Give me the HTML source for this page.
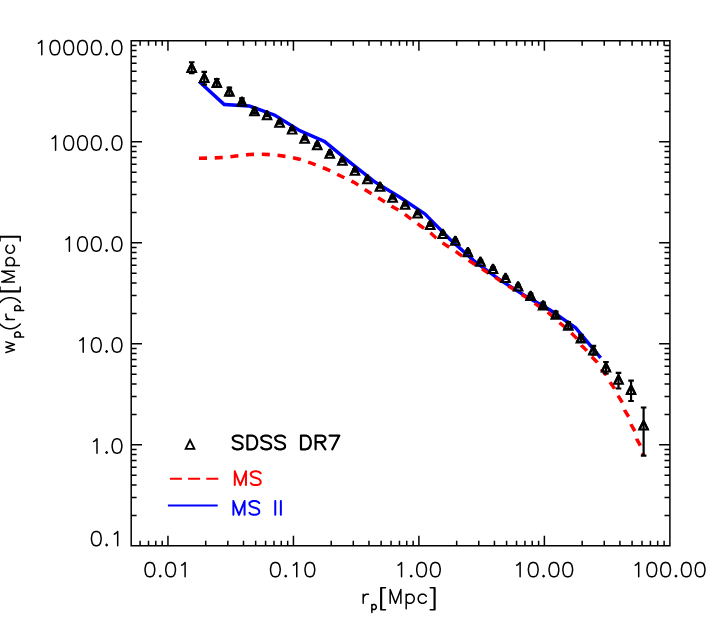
<!DOCTYPE html>
<html><head><meta charset="utf-8"><title>wp(rp)</title>
<style>html,body{margin:0;padding:0;background:#fff;font-family:"Liberation Sans",sans-serif}svg{display:block}</style></head>
<body>
<svg width="709" height="629" viewBox="0 0 709 629">
<rect width="709" height="629" fill="#fff"/>
<path d="M197.95,82.76L223.47,106.21L248.94,107.77L273.63,116.60L298.68,132.06L323.68,143.10L348.62,163.44L373.81,183.33L398.96,198.67L423.90,215.33L448.93,240.74L474.12,263.14L499.32,281.54L524.50,297.40L549.57,311.77L574.42,329.08L599.38,359.00L602.02,356.80L576.78,326.52L551.43,308.83L526.30,294.40L501.28,278.66L476.28,260.46L451.27,238.26L426.10,212.67L400.84,195.73L375.79,180.47L350.78,160.76L325.52,140.10L300.32,128.94L275.17,113.40L249.66,104.23L224.93,102.79L200.25,80.24Z" fill="#00f"/>
<path d="M199.03,160.10L207.03,159.97L206.97,156.37L198.97,156.50ZM214.84,159.70L222.83,159.27L222.64,155.68L214.65,156.10ZM230.65,158.45L236.21,157.79L238.58,157.52L238.18,153.94L235.79,154.21L230.22,154.88ZM246.28,156.65L249.42,156.30L254.10,156.19L254.02,152.59L249.18,152.70L245.88,153.08ZM261.85,156.00L261.97,156.00L269.70,156.44L269.90,152.84L262.03,152.40L261.77,152.41ZM277.27,157.10L285.20,158.17L285.68,154.61L277.75,153.54ZM292.68,159.61L299.03,160.93L300.26,161.34L301.40,157.96L299.97,157.47L293.41,156.10ZM307.60,163.82L311.29,165.07L315.03,166.54L316.33,163.24L312.51,161.73L308.75,160.45ZM322.24,169.39L325.89,170.82L329.45,172.53L330.98,169.35L327.31,167.58L323.54,166.09ZM336.43,175.90L339.93,177.59L343.63,179.37L345.17,176.20L341.47,174.41L337.96,172.72ZM350.62,182.74L353.93,184.32L357.32,186.59L359.26,183.70L355.67,181.28L352.15,179.56ZM363.82,190.93L370.63,195.13L372.46,192.16L365.65,187.96ZM377.21,199.27L384.07,203.38L385.87,200.38L379.01,196.27ZM390.51,207.57L390.69,207.69L397.53,211.62L399.27,208.58L392.51,204.71L392.41,204.65ZM403.85,215.70L410.21,220.54L412.31,217.80L405.94,212.95ZM416.52,225.12L419.00,226.91L423.08,229.76L425.06,226.91L421.00,224.09L418.55,222.31ZM429.26,234.05L434.70,239.02L435.33,239.51L437.40,236.74L436.90,236.38L431.56,231.53ZM441.53,244.16L441.60,244.21L448.24,248.68L450.17,245.79L443.60,241.39L443.60,241.39ZM454.68,252.85L461.13,257.59L463.18,254.80L456.73,250.06ZM467.75,261.83L469.06,262.67L474.47,266.15L476.36,263.22L470.94,259.73L469.62,258.89ZM480.99,270.34L487.72,274.67L489.60,271.74L482.88,267.41ZM494.23,278.87L499.36,282.17L500.96,283.20L502.85,280.26L501.24,279.23L496.12,275.94ZM507.49,287.38L514.22,291.70L516.10,288.77L509.37,284.45ZM520.74,295.88L524.43,298.25L527.35,300.28L529.33,297.43L526.37,295.35L522.63,292.95ZM533.70,304.72L533.70,304.72L540.19,309.36L542.21,306.55L535.70,301.88L535.69,301.87ZM546.57,313.41L551.56,317.87L552.51,318.74L554.81,316.21L553.84,315.33L548.85,310.86ZM558.24,323.96L558.39,324.10L563.99,328.61L564.46,329.02L566.73,326.47L566.21,325.99L560.61,321.50L560.54,321.44ZM570.13,334.14L575.74,339.83L578.16,337.45L572.55,331.75ZM579.78,346.01L580.05,346.38L585.23,351.54L585.49,351.88L588.16,349.72L587.77,349.26L582.75,344.22L582.72,344.13ZM590.52,358.01L595.94,363.47L595.86,363.40L598.84,361.57L598.66,361.33L592.91,355.62ZM599.92,370.00L601.00,371.72L604.77,376.10L604.81,376.21L607.88,374.50L607.63,374.10L603.80,369.68L602.90,368.17ZM608.58,382.98L609.12,383.93L612.99,389.50L613.00,389.55L616.16,387.97L616.01,387.70L612.08,382.07L611.65,381.27ZM616.58,396.61L620.83,403.39L623.79,401.53L619.53,394.76ZM622.82,410.38L622.97,410.81L627.10,417.66L630.10,415.86L626.23,409.39L626.25,409.37ZM629.25,424.65L629.47,425.31L633.30,431.99L636.35,430.25L632.73,423.89L632.66,423.61ZM634.99,439.02L635.23,439.94L638.83,446.54L641.92,444.87L638.57,438.66L638.48,438.20ZM641.01,453.59L641.49,455.21L644.91,454.19L644.43,452.57Z" fill="#f00"/>
<path d="M191.70,62.27V73.27M188.90,62.27h5.6M188.90,73.27h5.6" fill="none" stroke="#000" stroke-width="2.2"/>
<path d="M187.34,72.03L191.70,63.31L196.06,72.03Z" fill="none" stroke="#000" stroke-width="1.95" stroke-linejoin="miter" stroke-miterlimit="2"/>
<path d="M187.59,72.03L191.70,63.81L195.81,72.03" fill="none" stroke="#000" stroke-width="2.40" stroke-linejoin="bevel"/>
<path d="M204.25,71.92V84.67M201.45,71.92h5.6M201.45,84.67h5.6" fill="none" stroke="#000" stroke-width="2.2"/>
<path d="M199.89,81.93L204.25,73.21L208.61,81.93Z" fill="none" stroke="#000" stroke-width="1.95" stroke-linejoin="miter" stroke-miterlimit="2"/>
<path d="M200.14,81.93L204.25,73.71L208.36,81.93" fill="none" stroke="#000" stroke-width="2.40" stroke-linejoin="bevel"/>
<path d="M216.81,79.02V86.54M214.01,79.02h5.6M214.01,86.54h5.6" fill="none" stroke="#000" stroke-width="2.2"/>
<path d="M212.45,86.98L216.81,78.26L221.17,86.98Z" fill="none" stroke="#000" stroke-width="1.95" stroke-linejoin="miter" stroke-miterlimit="2"/>
<path d="M212.70,86.98L216.81,78.76L220.91,86.98" fill="none" stroke="#000" stroke-width="2.40" stroke-linejoin="bevel"/>
<path d="M229.36,87.72V95.35M226.56,87.72h5.6M226.56,95.35h5.6" fill="none" stroke="#000" stroke-width="2.2"/>
<path d="M225.00,95.73L229.36,87.01L233.72,95.73Z" fill="none" stroke="#000" stroke-width="1.95" stroke-linejoin="miter" stroke-miterlimit="2"/>
<path d="M225.25,95.73L229.36,87.51L233.47,95.73" fill="none" stroke="#000" stroke-width="2.40" stroke-linejoin="bevel"/>
<path d="M241.91,98.42V103.47M239.11,98.42h5.6M239.11,103.47h5.6" fill="none" stroke="#000" stroke-width="2.2"/>
<path d="M237.55,105.73L241.91,97.01L246.27,105.73Z" fill="none" stroke="#000" stroke-width="1.95" stroke-linejoin="miter" stroke-miterlimit="2"/>
<path d="M237.80,105.73L241.91,97.51L246.02,105.73" fill="none" stroke="#000" stroke-width="2.40" stroke-linejoin="bevel"/>
<path d="M254.46,107.97V113.17M251.66,107.97h5.6M251.66,113.17h5.6" fill="none" stroke="#000" stroke-width="2.2"/>
<path d="M250.10,115.33L254.46,106.61L258.82,115.33Z" fill="none" stroke="#000" stroke-width="1.95" stroke-linejoin="miter" stroke-miterlimit="2"/>
<path d="M250.36,115.33L254.46,107.11L258.57,115.33" fill="none" stroke="#000" stroke-width="2.40" stroke-linejoin="bevel"/>
<path d="M267.02,113.77V116.20M264.22,113.77h5.6M264.22,116.20h5.6" fill="none" stroke="#000" stroke-width="2.2"/>
<path d="M262.66,119.33L267.02,110.61L271.38,119.33Z" fill="none" stroke="#000" stroke-width="1.95" stroke-linejoin="miter" stroke-miterlimit="2"/>
<path d="M262.91,119.33L267.02,111.11L271.13,119.33" fill="none" stroke="#000" stroke-width="2.40" stroke-linejoin="bevel"/>
<path d="M279.57,121.17V123.60M276.77,121.17h5.6M276.77,123.60h5.6" fill="none" stroke="#000" stroke-width="2.2"/>
<path d="M275.21,126.73L279.57,118.01L283.93,126.73Z" fill="none" stroke="#000" stroke-width="1.95" stroke-linejoin="miter" stroke-miterlimit="2"/>
<path d="M275.46,126.73L279.57,118.51L283.68,126.73" fill="none" stroke="#000" stroke-width="2.40" stroke-linejoin="bevel"/>
<path d="M292.12,128.06V130.50M289.32,128.06h5.6M289.32,130.50h5.6" fill="none" stroke="#000" stroke-width="2.2"/>
<path d="M287.76,133.62L292.12,124.90L296.48,133.62Z" fill="none" stroke="#000" stroke-width="1.95" stroke-linejoin="miter" stroke-miterlimit="2"/>
<path d="M288.02,133.62L292.12,125.41L296.23,133.62" fill="none" stroke="#000" stroke-width="2.40" stroke-linejoin="bevel"/>
<path d="M304.68,137.12V139.55M301.88,137.12h5.6M301.88,139.55h5.6" fill="none" stroke="#000" stroke-width="2.2"/>
<path d="M300.32,142.68L304.68,133.95L309.04,142.68Z" fill="none" stroke="#000" stroke-width="1.95" stroke-linejoin="miter" stroke-miterlimit="2"/>
<path d="M300.57,142.68L304.68,134.46L308.79,142.68" fill="none" stroke="#000" stroke-width="2.40" stroke-linejoin="bevel"/>
<path d="M317.23,143.72V146.15M314.43,143.72h5.6M314.43,146.15h5.6" fill="none" stroke="#000" stroke-width="2.2"/>
<path d="M312.87,149.28L317.23,140.55L321.59,149.28Z" fill="none" stroke="#000" stroke-width="1.95" stroke-linejoin="miter" stroke-miterlimit="2"/>
<path d="M313.12,149.28L317.23,141.06L321.34,149.28" fill="none" stroke="#000" stroke-width="2.40" stroke-linejoin="bevel"/>
<path d="M329.78,152.16V154.60M326.98,152.16h5.6M326.98,154.60h5.6" fill="none" stroke="#000" stroke-width="2.2"/>
<path d="M325.42,157.72L329.78,149.00L334.14,157.72Z" fill="none" stroke="#000" stroke-width="1.95" stroke-linejoin="miter" stroke-miterlimit="2"/>
<path d="M325.67,157.72L329.78,149.51L333.89,157.72" fill="none" stroke="#000" stroke-width="2.40" stroke-linejoin="bevel"/>
<path d="M342.34,159.27V161.70M339.54,159.27h5.6M339.54,161.70h5.6" fill="none" stroke="#000" stroke-width="2.2"/>
<path d="M337.98,164.83L342.34,156.10L346.70,164.83Z" fill="none" stroke="#000" stroke-width="1.95" stroke-linejoin="miter" stroke-miterlimit="2"/>
<path d="M338.23,164.83L342.34,156.61L346.44,164.83" fill="none" stroke="#000" stroke-width="2.40" stroke-linejoin="bevel"/>
<path d="M354.89,169.27V171.70M352.09,169.27h5.6M352.09,171.70h5.6" fill="none" stroke="#000" stroke-width="2.2"/>
<path d="M350.53,174.83L354.89,166.10L359.25,174.83Z" fill="none" stroke="#000" stroke-width="1.95" stroke-linejoin="miter" stroke-miterlimit="2"/>
<path d="M350.78,174.83L354.89,166.61L359.00,174.83" fill="none" stroke="#000" stroke-width="2.40" stroke-linejoin="bevel"/>
<path d="M367.44,177.77V180.20M364.64,177.77h5.6M364.64,180.20h5.6" fill="none" stroke="#000" stroke-width="2.2"/>
<path d="M363.08,183.33L367.44,174.60L371.80,183.33Z" fill="none" stroke="#000" stroke-width="1.95" stroke-linejoin="miter" stroke-miterlimit="2"/>
<path d="M363.33,183.33L367.44,175.11L371.55,183.33" fill="none" stroke="#000" stroke-width="2.40" stroke-linejoin="bevel"/>
<path d="M380.00,185.16V187.60M377.19,185.16h5.6M377.19,187.60h5.6" fill="none" stroke="#000" stroke-width="2.2"/>
<path d="M375.63,190.72L380.00,182.00L384.36,190.72Z" fill="none" stroke="#000" stroke-width="1.95" stroke-linejoin="miter" stroke-miterlimit="2"/>
<path d="M375.89,190.72L380.00,182.51L384.10,190.72" fill="none" stroke="#000" stroke-width="2.40" stroke-linejoin="bevel"/>
<path d="M392.55,196.27V198.70M389.75,196.27h5.6M389.75,198.70h5.6" fill="none" stroke="#000" stroke-width="2.2"/>
<path d="M388.19,201.83L392.55,193.10L396.91,201.83Z" fill="none" stroke="#000" stroke-width="1.95" stroke-linejoin="miter" stroke-miterlimit="2"/>
<path d="M388.44,201.83L392.55,193.61L396.66,201.83" fill="none" stroke="#000" stroke-width="2.40" stroke-linejoin="bevel"/>
<path d="M405.10,203.27V205.70M402.30,203.27h5.6M402.30,205.70h5.6" fill="none" stroke="#000" stroke-width="2.2"/>
<path d="M400.74,208.83L405.10,200.10L409.46,208.83Z" fill="none" stroke="#000" stroke-width="1.95" stroke-linejoin="miter" stroke-miterlimit="2"/>
<path d="M400.99,208.83L405.10,200.61L409.21,208.83" fill="none" stroke="#000" stroke-width="2.40" stroke-linejoin="bevel"/>
<path d="M417.65,212.02V214.45M414.85,212.02h5.6M414.85,214.45h5.6" fill="none" stroke="#000" stroke-width="2.2"/>
<path d="M413.29,217.58L417.65,208.85L422.01,217.58Z" fill="none" stroke="#000" stroke-width="1.95" stroke-linejoin="miter" stroke-miterlimit="2"/>
<path d="M413.55,217.58L417.65,209.36L421.76,217.58" fill="none" stroke="#000" stroke-width="2.40" stroke-linejoin="bevel"/>
<path d="M430.21,223.47V225.90M427.41,223.47h5.6M427.41,225.90h5.6" fill="none" stroke="#000" stroke-width="2.2"/>
<path d="M425.85,229.03L430.21,220.30L434.57,229.03Z" fill="none" stroke="#000" stroke-width="1.95" stroke-linejoin="miter" stroke-miterlimit="2"/>
<path d="M426.10,229.03L430.21,220.81L434.32,229.03" fill="none" stroke="#000" stroke-width="2.40" stroke-linejoin="bevel"/>
<path d="M442.76,232.37V234.80M439.96,232.37h5.6M439.96,234.80h5.6" fill="none" stroke="#000" stroke-width="2.2"/>
<path d="M438.40,237.93L442.76,229.20L447.12,237.93Z" fill="none" stroke="#000" stroke-width="1.95" stroke-linejoin="miter" stroke-miterlimit="2"/>
<path d="M438.65,237.93L442.76,229.71L446.87,237.93" fill="none" stroke="#000" stroke-width="2.40" stroke-linejoin="bevel"/>
<path d="M455.31,239.27V241.70M452.51,239.27h5.6M452.51,241.70h5.6" fill="none" stroke="#000" stroke-width="2.2"/>
<path d="M450.95,244.83L455.31,236.10L459.67,244.83Z" fill="none" stroke="#000" stroke-width="1.95" stroke-linejoin="miter" stroke-miterlimit="2"/>
<path d="M451.20,244.83L455.31,236.61L459.42,244.83" fill="none" stroke="#000" stroke-width="2.40" stroke-linejoin="bevel"/>
<path d="M467.87,250.61V253.05M465.07,250.61h5.6M465.07,253.05h5.6" fill="none" stroke="#000" stroke-width="2.2"/>
<path d="M463.51,256.17L467.87,247.45L472.23,256.17Z" fill="none" stroke="#000" stroke-width="1.95" stroke-linejoin="miter" stroke-miterlimit="2"/>
<path d="M463.76,256.17L467.87,247.96L471.97,256.17" fill="none" stroke="#000" stroke-width="2.40" stroke-linejoin="bevel"/>
<path d="M480.42,260.16V262.60M477.62,260.16h5.6M477.62,262.60h5.6" fill="none" stroke="#000" stroke-width="2.2"/>
<path d="M476.06,265.72L480.42,257.00L484.78,265.72Z" fill="none" stroke="#000" stroke-width="1.95" stroke-linejoin="miter" stroke-miterlimit="2"/>
<path d="M476.31,265.72L480.42,257.51L484.53,265.72" fill="none" stroke="#000" stroke-width="2.40" stroke-linejoin="bevel"/>
<path d="M492.97,267.36V269.80M490.17,267.36h5.6M490.17,269.80h5.6" fill="none" stroke="#000" stroke-width="2.2"/>
<path d="M488.61,272.92L492.97,264.20L497.33,272.92Z" fill="none" stroke="#000" stroke-width="1.95" stroke-linejoin="miter" stroke-miterlimit="2"/>
<path d="M488.86,272.92L492.97,264.71L497.08,272.92" fill="none" stroke="#000" stroke-width="2.40" stroke-linejoin="bevel"/>
<path d="M505.53,276.41V278.85M502.73,276.41h5.6M502.73,278.85h5.6" fill="none" stroke="#000" stroke-width="2.2"/>
<path d="M501.17,281.97L505.53,273.25L509.89,281.97Z" fill="none" stroke="#000" stroke-width="1.95" stroke-linejoin="miter" stroke-miterlimit="2"/>
<path d="M501.42,281.97L505.53,273.76L509.63,281.97" fill="none" stroke="#000" stroke-width="2.40" stroke-linejoin="bevel"/>
<path d="M518.08,284.86V287.30M515.28,284.86h5.6M515.28,287.30h5.6" fill="none" stroke="#000" stroke-width="2.2"/>
<path d="M513.72,290.42L518.08,281.70L522.44,290.42Z" fill="none" stroke="#000" stroke-width="1.95" stroke-linejoin="miter" stroke-miterlimit="2"/>
<path d="M513.97,290.42L518.08,282.21L522.19,290.42" fill="none" stroke="#000" stroke-width="2.40" stroke-linejoin="bevel"/>
<path d="M530.63,293.61V297.71M527.83,293.61h5.6M527.83,297.71h5.6" fill="none" stroke="#000" stroke-width="2.2"/>
<path d="M526.27,299.97L530.63,291.25L534.99,299.97Z" fill="none" stroke="#000" stroke-width="1.95" stroke-linejoin="miter" stroke-miterlimit="2"/>
<path d="M526.52,299.97L530.63,291.76L534.74,299.97" fill="none" stroke="#000" stroke-width="2.40" stroke-linejoin="bevel"/>
<path d="M543.18,302.51V307.88M540.38,302.51h5.6M540.38,307.88h5.6" fill="none" stroke="#000" stroke-width="2.2"/>
<path d="M538.82,309.47L543.18,300.75L547.54,309.47Z" fill="none" stroke="#000" stroke-width="1.95" stroke-linejoin="miter" stroke-miterlimit="2"/>
<path d="M539.08,309.47L543.18,301.26L547.29,309.47" fill="none" stroke="#000" stroke-width="2.40" stroke-linejoin="bevel"/>
<path d="M555.74,311.56V317.57M552.94,311.56h5.6M552.94,317.57h5.6" fill="none" stroke="#000" stroke-width="2.2"/>
<path d="M551.38,318.82L555.74,310.10L560.10,318.82Z" fill="none" stroke="#000" stroke-width="1.95" stroke-linejoin="miter" stroke-miterlimit="2"/>
<path d="M551.63,318.82L555.74,310.61L559.85,318.82" fill="none" stroke="#000" stroke-width="2.40" stroke-linejoin="bevel"/>
<path d="M568.29,322.11V328.77M565.49,322.11h5.6M565.49,328.77h5.6" fill="none" stroke="#000" stroke-width="2.2"/>
<path d="M563.93,329.67L568.29,320.95L572.65,329.67Z" fill="none" stroke="#000" stroke-width="1.95" stroke-linejoin="miter" stroke-miterlimit="2"/>
<path d="M564.18,329.67L568.29,321.46L572.40,329.67" fill="none" stroke="#000" stroke-width="2.40" stroke-linejoin="bevel"/>
<path d="M580.84,334.76V341.96M578.04,334.76h5.6M578.04,341.96h5.6" fill="none" stroke="#000" stroke-width="2.2"/>
<path d="M576.48,342.57L580.84,333.85L585.20,342.57Z" fill="none" stroke="#000" stroke-width="1.95" stroke-linejoin="miter" stroke-miterlimit="2"/>
<path d="M576.73,342.57L580.84,334.36L584.95,342.57" fill="none" stroke="#000" stroke-width="2.40" stroke-linejoin="bevel"/>
<path d="M593.40,345.91V354.65M590.60,345.91h5.6M590.60,354.65h5.6" fill="none" stroke="#000" stroke-width="2.2"/>
<path d="M589.04,354.42L593.40,345.70L597.76,354.42Z" fill="none" stroke="#000" stroke-width="1.95" stroke-linejoin="miter" stroke-miterlimit="2"/>
<path d="M589.29,354.42L593.40,346.21L597.50,354.42" fill="none" stroke="#000" stroke-width="2.40" stroke-linejoin="bevel"/>
<path d="M605.95,362.01V373.51M603.15,362.01h5.6M603.15,373.51h5.6" fill="none" stroke="#000" stroke-width="2.2"/>
<path d="M601.59,371.57L605.95,362.85L610.31,371.57Z" fill="none" stroke="#000" stroke-width="1.95" stroke-linejoin="miter" stroke-miterlimit="2"/>
<path d="M601.84,371.57L605.95,363.36L610.06,371.57" fill="none" stroke="#000" stroke-width="2.40" stroke-linejoin="bevel"/>
<path d="M618.50,372.81V388.51M615.70,372.81h5.6M615.70,388.51h5.6" fill="none" stroke="#000" stroke-width="2.2"/>
<path d="M614.14,383.82L618.50,375.10L622.86,383.82Z" fill="none" stroke="#000" stroke-width="1.95" stroke-linejoin="miter" stroke-miterlimit="2"/>
<path d="M614.39,383.82L618.50,375.61L622.61,383.82" fill="none" stroke="#000" stroke-width="2.40" stroke-linejoin="bevel"/>
<path d="M631.06,380.71V401.01M628.26,380.71h5.6M628.26,401.01h5.6" fill="none" stroke="#000" stroke-width="2.2"/>
<path d="M626.70,393.92L631.06,385.20L635.42,393.92Z" fill="none" stroke="#000" stroke-width="1.95" stroke-linejoin="miter" stroke-miterlimit="2"/>
<path d="M626.95,393.92L631.06,385.71L635.16,393.92" fill="none" stroke="#000" stroke-width="2.40" stroke-linejoin="bevel"/>
<path d="M643.61,407.51V455.61M640.81,407.51h5.6M640.81,455.61h5.6" fill="none" stroke="#000" stroke-width="2.2"/>
<path d="M639.25,429.52L643.61,420.80L647.97,429.52Z" fill="none" stroke="#000" stroke-width="1.95" stroke-linejoin="miter" stroke-miterlimit="2"/>
<path d="M639.50,429.52L643.61,421.31L647.72,429.52" fill="none" stroke="#000" stroke-width="2.40" stroke-linejoin="bevel"/>
<path d="M131.2,40.8H669.9V545.8H131.2ZM140.11,545.8v-5.0M140.11,40.8v5.0M148.51,545.8v-5.0M148.51,40.8v5.0M155.79,545.8v-5.0M155.79,40.8v5.0M162.21,545.8v-5.0M162.21,40.8v5.0M167.95,545.8v-10.0M167.95,40.8v10.0M205.72,545.8v-5.0M205.72,40.8v5.0M227.82,545.8v-5.0M227.82,40.8v5.0M243.49,545.8v-5.0M243.49,40.8v5.0M255.65,545.8v-5.0M255.65,40.8v5.0M265.59,545.8v-5.0M265.59,40.8v5.0M273.99,545.8v-5.0M273.99,40.8v5.0M281.27,545.8v-5.0M281.27,40.8v5.0M287.68,545.8v-5.0M287.68,40.8v5.0M293.43,545.8v-10.0M293.43,40.8v10.0M331.20,545.8v-5.0M331.20,40.8v5.0M353.29,545.8v-5.0M353.29,40.8v5.0M368.97,545.8v-5.0M368.97,40.8v5.0M381.13,545.8v-5.0M381.13,40.8v5.0M391.06,545.8v-5.0M391.06,40.8v5.0M399.46,545.8v-5.0M399.46,40.8v5.0M406.74,545.8v-5.0M406.74,40.8v5.0M413.16,545.8v-5.0M413.16,40.8v5.0M418.90,545.8v-10.0M418.90,40.8v10.0M456.67,545.8v-5.0M456.67,40.8v5.0M478.77,545.8v-5.0M478.77,40.8v5.0M494.44,545.8v-5.0M494.44,40.8v5.0M506.60,545.8v-5.0M506.60,40.8v5.0M516.54,545.8v-5.0M516.54,40.8v5.0M524.94,545.8v-5.0M524.94,40.8v5.0M532.22,545.8v-5.0M532.22,40.8v5.0M538.63,545.8v-5.0M538.63,40.8v5.0M544.38,545.8v-10.0M544.38,40.8v10.0M582.15,545.8v-5.0M582.15,40.8v5.0M604.24,545.8v-5.0M604.24,40.8v5.0M619.92,545.8v-5.0M619.92,40.8v5.0M632.08,545.8v-5.0M632.08,40.8v5.0M642.01,545.8v-5.0M642.01,40.8v5.0M650.41,545.8v-5.0M650.41,40.8v5.0M657.69,545.8v-5.0M657.69,40.8v5.0M664.11,545.8v-5.0M664.11,40.8v5.0M131.2,515.40h5.4M669.9,515.40h-5.4M131.2,497.61h5.4M669.9,497.61h-5.4M131.2,484.99h5.4M669.9,484.99h-5.4M131.2,475.20h5.4M669.9,475.20h-5.4M131.2,467.21h5.4M669.9,467.21h-5.4M131.2,460.45h5.4M669.9,460.45h-5.4M131.2,454.59h5.4M669.9,454.59h-5.4M131.2,449.42h5.4M669.9,449.42h-5.4M131.2,444.80h10.8M669.9,444.80h-10.8M131.2,414.40h5.4M669.9,414.40h-5.4M131.2,396.61h5.4M669.9,396.61h-5.4M131.2,383.99h5.4M669.9,383.99h-5.4M131.2,374.20h5.4M669.9,374.20h-5.4M131.2,366.21h5.4M669.9,366.21h-5.4M131.2,359.45h5.4M669.9,359.45h-5.4M131.2,353.59h5.4M669.9,353.59h-5.4M131.2,348.42h5.4M669.9,348.42h-5.4M131.2,343.80h10.8M669.9,343.80h-10.8M131.2,313.40h5.4M669.9,313.40h-5.4M131.2,295.61h5.4M669.9,295.61h-5.4M131.2,282.99h5.4M669.9,282.99h-5.4M131.2,273.20h5.4M669.9,273.20h-5.4M131.2,265.21h5.4M669.9,265.21h-5.4M131.2,258.45h5.4M669.9,258.45h-5.4M131.2,252.59h5.4M669.9,252.59h-5.4M131.2,247.42h5.4M669.9,247.42h-5.4M131.2,242.80h10.8M669.9,242.80h-10.8M131.2,212.40h5.4M669.9,212.40h-5.4M131.2,194.61h5.4M669.9,194.61h-5.4M131.2,181.99h5.4M669.9,181.99h-5.4M131.2,172.20h5.4M669.9,172.20h-5.4M131.2,164.21h5.4M669.9,164.21h-5.4M131.2,157.45h5.4M669.9,157.45h-5.4M131.2,151.59h5.4M669.9,151.59h-5.4M131.2,146.42h5.4M669.9,146.42h-5.4M131.2,141.80h10.8M669.9,141.80h-10.8M131.2,111.40h5.4M669.9,111.40h-5.4M131.2,93.61h5.4M669.9,93.61h-5.4M131.2,80.99h5.4M669.9,80.99h-5.4M131.2,71.20h5.4M669.9,71.20h-5.4M131.2,63.21h5.4M669.9,63.21h-5.4M131.2,56.45h5.4M669.9,56.45h-5.4M131.2,50.59h5.4M669.9,50.59h-5.4M131.2,45.42h5.4M669.9,45.42h-5.4" fill="none" stroke="#000" stroke-width="1.5" stroke-linecap="butt"/>
<path transform="translate(167.15 576.80) scale(0.6900 0.6800) translate(-35.00 0)" d="M9.00,-21.00L6.00,-20.00L4.00,-17.00L3.00,-12.00L3.00,-9.00L4.00,-4.00L6.00,-1.00L9.00,0.00L11.00,0.00L14.00,-1.00L16.00,-4.00L17.00,-9.00L17.00,-12.00L16.00,-17.00L14.00,-20.00L11.00,-21.00L9.00,-21.00M25.00,-2.00L24.00,-1.00L25.00,0.00L26.00,-1.00L25.00,-2.00M39.00,-21.00L36.00,-20.00L34.00,-17.00L33.00,-12.00L33.00,-9.00L34.00,-4.00L36.00,-1.00L39.00,0.00L41.00,0.00L44.00,-1.00L46.00,-4.00L47.00,-9.00L47.00,-12.00L46.00,-17.00L44.00,-20.00L41.00,-21.00L39.00,-21.00M56.00,-17.00L58.00,-18.00L61.00,-21.00L61.00,0.00" fill="none" stroke="#000" stroke-width="1.50" vector-effect="non-scaling-stroke" stroke-linecap="round" stroke-linejoin="round"/>
<path transform="translate(292.62 576.80) scale(0.6900 0.6800) translate(-35.00 0)" d="M9.00,-21.00L6.00,-20.00L4.00,-17.00L3.00,-12.00L3.00,-9.00L4.00,-4.00L6.00,-1.00L9.00,0.00L11.00,0.00L14.00,-1.00L16.00,-4.00L17.00,-9.00L17.00,-12.00L16.00,-17.00L14.00,-20.00L11.00,-21.00L9.00,-21.00M25.00,-2.00L24.00,-1.00L25.00,0.00L26.00,-1.00L25.00,-2.00M36.00,-17.00L38.00,-18.00L41.00,-21.00L41.00,0.00M59.00,-21.00L56.00,-20.00L54.00,-17.00L53.00,-12.00L53.00,-9.00L54.00,-4.00L56.00,-1.00L59.00,0.00L61.00,0.00L64.00,-1.00L66.00,-4.00L67.00,-9.00L67.00,-12.00L66.00,-17.00L64.00,-20.00L61.00,-21.00L59.00,-21.00" fill="none" stroke="#000" stroke-width="1.50" vector-effect="non-scaling-stroke" stroke-linecap="round" stroke-linejoin="round"/>
<path transform="translate(418.10 576.80) scale(0.6900 0.6800) translate(-35.00 0)" d="M6.00,-17.00L8.00,-18.00L11.00,-21.00L11.00,0.00M25.00,-2.00L24.00,-1.00L25.00,0.00L26.00,-1.00L25.00,-2.00M39.00,-21.00L36.00,-20.00L34.00,-17.00L33.00,-12.00L33.00,-9.00L34.00,-4.00L36.00,-1.00L39.00,0.00L41.00,0.00L44.00,-1.00L46.00,-4.00L47.00,-9.00L47.00,-12.00L46.00,-17.00L44.00,-20.00L41.00,-21.00L39.00,-21.00M59.00,-21.00L56.00,-20.00L54.00,-17.00L53.00,-12.00L53.00,-9.00L54.00,-4.00L56.00,-1.00L59.00,0.00L61.00,0.00L64.00,-1.00L66.00,-4.00L67.00,-9.00L67.00,-12.00L66.00,-17.00L64.00,-20.00L61.00,-21.00L59.00,-21.00" fill="none" stroke="#000" stroke-width="1.50" vector-effect="non-scaling-stroke" stroke-linecap="round" stroke-linejoin="round"/>
<path transform="translate(543.58 576.80) scale(0.6900 0.6800) translate(-45.00 0)" d="M6.00,-17.00L8.00,-18.00L11.00,-21.00L11.00,0.00M29.00,-21.00L26.00,-20.00L24.00,-17.00L23.00,-12.00L23.00,-9.00L24.00,-4.00L26.00,-1.00L29.00,0.00L31.00,0.00L34.00,-1.00L36.00,-4.00L37.00,-9.00L37.00,-12.00L36.00,-17.00L34.00,-20.00L31.00,-21.00L29.00,-21.00M45.00,-2.00L44.00,-1.00L45.00,0.00L46.00,-1.00L45.00,-2.00M59.00,-21.00L56.00,-20.00L54.00,-17.00L53.00,-12.00L53.00,-9.00L54.00,-4.00L56.00,-1.00L59.00,0.00L61.00,0.00L64.00,-1.00L66.00,-4.00L67.00,-9.00L67.00,-12.00L66.00,-17.00L64.00,-20.00L61.00,-21.00L59.00,-21.00M79.00,-21.00L76.00,-20.00L74.00,-17.00L73.00,-12.00L73.00,-9.00L74.00,-4.00L76.00,-1.00L79.00,0.00L81.00,0.00L84.00,-1.00L86.00,-4.00L87.00,-9.00L87.00,-12.00L86.00,-17.00L84.00,-20.00L81.00,-21.00L79.00,-21.00" fill="none" stroke="#000" stroke-width="1.50" vector-effect="non-scaling-stroke" stroke-linecap="round" stroke-linejoin="round"/>
<path transform="translate(669.05 576.80) scale(0.6900 0.6800) translate(-55.00 0)" d="M6.00,-17.00L8.00,-18.00L11.00,-21.00L11.00,0.00M29.00,-21.00L26.00,-20.00L24.00,-17.00L23.00,-12.00L23.00,-9.00L24.00,-4.00L26.00,-1.00L29.00,0.00L31.00,0.00L34.00,-1.00L36.00,-4.00L37.00,-9.00L37.00,-12.00L36.00,-17.00L34.00,-20.00L31.00,-21.00L29.00,-21.00M49.00,-21.00L46.00,-20.00L44.00,-17.00L43.00,-12.00L43.00,-9.00L44.00,-4.00L46.00,-1.00L49.00,0.00L51.00,0.00L54.00,-1.00L56.00,-4.00L57.00,-9.00L57.00,-12.00L56.00,-17.00L54.00,-20.00L51.00,-21.00L49.00,-21.00M65.00,-2.00L64.00,-1.00L65.00,0.00L66.00,-1.00L65.00,-2.00M79.00,-21.00L76.00,-20.00L74.00,-17.00L73.00,-12.00L73.00,-9.00L74.00,-4.00L76.00,-1.00L79.00,0.00L81.00,0.00L84.00,-1.00L86.00,-4.00L87.00,-9.00L87.00,-12.00L86.00,-17.00L84.00,-20.00L81.00,-21.00L79.00,-21.00M99.00,-21.00L96.00,-20.00L94.00,-17.00L93.00,-12.00L93.00,-9.00L94.00,-4.00L96.00,-1.00L99.00,0.00L101.00,0.00L104.00,-1.00L106.00,-4.00L107.00,-9.00L107.00,-12.00L106.00,-17.00L104.00,-20.00L101.00,-21.00L99.00,-21.00" fill="none" stroke="#000" stroke-width="1.50" vector-effect="non-scaling-stroke" stroke-linecap="round" stroke-linejoin="round"/>
<path transform="translate(123.90 54.85) scale(0.6900 0.6800) translate(-130.00 0)" d="M6.00,-17.00L8.00,-18.00L11.00,-21.00L11.00,0.00M29.00,-21.00L26.00,-20.00L24.00,-17.00L23.00,-12.00L23.00,-9.00L24.00,-4.00L26.00,-1.00L29.00,0.00L31.00,0.00L34.00,-1.00L36.00,-4.00L37.00,-9.00L37.00,-12.00L36.00,-17.00L34.00,-20.00L31.00,-21.00L29.00,-21.00M49.00,-21.00L46.00,-20.00L44.00,-17.00L43.00,-12.00L43.00,-9.00L44.00,-4.00L46.00,-1.00L49.00,0.00L51.00,0.00L54.00,-1.00L56.00,-4.00L57.00,-9.00L57.00,-12.00L56.00,-17.00L54.00,-20.00L51.00,-21.00L49.00,-21.00M69.00,-21.00L66.00,-20.00L64.00,-17.00L63.00,-12.00L63.00,-9.00L64.00,-4.00L66.00,-1.00L69.00,0.00L71.00,0.00L74.00,-1.00L76.00,-4.00L77.00,-9.00L77.00,-12.00L76.00,-17.00L74.00,-20.00L71.00,-21.00L69.00,-21.00M89.00,-21.00L86.00,-20.00L84.00,-17.00L83.00,-12.00L83.00,-9.00L84.00,-4.00L86.00,-1.00L89.00,0.00L91.00,0.00L94.00,-1.00L96.00,-4.00L97.00,-9.00L97.00,-12.00L96.00,-17.00L94.00,-20.00L91.00,-21.00L89.00,-21.00M105.00,-2.00L104.00,-1.00L105.00,0.00L106.00,-1.00L105.00,-2.00M119.00,-21.00L116.00,-20.00L114.00,-17.00L113.00,-12.00L113.00,-9.00L114.00,-4.00L116.00,-1.00L119.00,0.00L121.00,0.00L124.00,-1.00L126.00,-4.00L127.00,-9.00L127.00,-12.00L126.00,-17.00L124.00,-20.00L121.00,-21.00L119.00,-21.00" fill="none" stroke="#000" stroke-width="1.50" vector-effect="non-scaling-stroke" stroke-linecap="round" stroke-linejoin="round"/>
<path transform="translate(123.90 150.15) scale(0.6900 0.6800) translate(-110.00 0)" d="M6.00,-17.00L8.00,-18.00L11.00,-21.00L11.00,0.00M29.00,-21.00L26.00,-20.00L24.00,-17.00L23.00,-12.00L23.00,-9.00L24.00,-4.00L26.00,-1.00L29.00,0.00L31.00,0.00L34.00,-1.00L36.00,-4.00L37.00,-9.00L37.00,-12.00L36.00,-17.00L34.00,-20.00L31.00,-21.00L29.00,-21.00M49.00,-21.00L46.00,-20.00L44.00,-17.00L43.00,-12.00L43.00,-9.00L44.00,-4.00L46.00,-1.00L49.00,0.00L51.00,0.00L54.00,-1.00L56.00,-4.00L57.00,-9.00L57.00,-12.00L56.00,-17.00L54.00,-20.00L51.00,-21.00L49.00,-21.00M69.00,-21.00L66.00,-20.00L64.00,-17.00L63.00,-12.00L63.00,-9.00L64.00,-4.00L66.00,-1.00L69.00,0.00L71.00,0.00L74.00,-1.00L76.00,-4.00L77.00,-9.00L77.00,-12.00L76.00,-17.00L74.00,-20.00L71.00,-21.00L69.00,-21.00M85.00,-2.00L84.00,-1.00L85.00,0.00L86.00,-1.00L85.00,-2.00M99.00,-21.00L96.00,-20.00L94.00,-17.00L93.00,-12.00L93.00,-9.00L94.00,-4.00L96.00,-1.00L99.00,0.00L101.00,0.00L104.00,-1.00L106.00,-4.00L107.00,-9.00L107.00,-12.00L106.00,-17.00L104.00,-20.00L101.00,-21.00L99.00,-21.00" fill="none" stroke="#000" stroke-width="1.50" vector-effect="non-scaling-stroke" stroke-linecap="round" stroke-linejoin="round"/>
<path transform="translate(123.90 251.15) scale(0.6900 0.6800) translate(-90.00 0)" d="M6.00,-17.00L8.00,-18.00L11.00,-21.00L11.00,0.00M29.00,-21.00L26.00,-20.00L24.00,-17.00L23.00,-12.00L23.00,-9.00L24.00,-4.00L26.00,-1.00L29.00,0.00L31.00,0.00L34.00,-1.00L36.00,-4.00L37.00,-9.00L37.00,-12.00L36.00,-17.00L34.00,-20.00L31.00,-21.00L29.00,-21.00M49.00,-21.00L46.00,-20.00L44.00,-17.00L43.00,-12.00L43.00,-9.00L44.00,-4.00L46.00,-1.00L49.00,0.00L51.00,0.00L54.00,-1.00L56.00,-4.00L57.00,-9.00L57.00,-12.00L56.00,-17.00L54.00,-20.00L51.00,-21.00L49.00,-21.00M65.00,-2.00L64.00,-1.00L65.00,0.00L66.00,-1.00L65.00,-2.00M79.00,-21.00L76.00,-20.00L74.00,-17.00L73.00,-12.00L73.00,-9.00L74.00,-4.00L76.00,-1.00L79.00,0.00L81.00,0.00L84.00,-1.00L86.00,-4.00L87.00,-9.00L87.00,-12.00L86.00,-17.00L84.00,-20.00L81.00,-21.00L79.00,-21.00" fill="none" stroke="#000" stroke-width="1.50" vector-effect="non-scaling-stroke" stroke-linecap="round" stroke-linejoin="round"/>
<path transform="translate(123.90 352.15) scale(0.6900 0.6800) translate(-70.00 0)" d="M6.00,-17.00L8.00,-18.00L11.00,-21.00L11.00,0.00M29.00,-21.00L26.00,-20.00L24.00,-17.00L23.00,-12.00L23.00,-9.00L24.00,-4.00L26.00,-1.00L29.00,0.00L31.00,0.00L34.00,-1.00L36.00,-4.00L37.00,-9.00L37.00,-12.00L36.00,-17.00L34.00,-20.00L31.00,-21.00L29.00,-21.00M45.00,-2.00L44.00,-1.00L45.00,0.00L46.00,-1.00L45.00,-2.00M59.00,-21.00L56.00,-20.00L54.00,-17.00L53.00,-12.00L53.00,-9.00L54.00,-4.00L56.00,-1.00L59.00,0.00L61.00,0.00L64.00,-1.00L66.00,-4.00L67.00,-9.00L67.00,-12.00L66.00,-17.00L64.00,-20.00L61.00,-21.00L59.00,-21.00" fill="none" stroke="#000" stroke-width="1.50" vector-effect="non-scaling-stroke" stroke-linecap="round" stroke-linejoin="round"/>
<path transform="translate(123.90 453.15) scale(0.6900 0.6800) translate(-50.00 0)" d="M6.00,-17.00L8.00,-18.00L11.00,-21.00L11.00,0.00M25.00,-2.00L24.00,-1.00L25.00,0.00L26.00,-1.00L25.00,-2.00M39.00,-21.00L36.00,-20.00L34.00,-17.00L33.00,-12.00L33.00,-9.00L34.00,-4.00L36.00,-1.00L39.00,0.00L41.00,0.00L44.00,-1.00L46.00,-4.00L47.00,-9.00L47.00,-12.00L46.00,-17.00L44.00,-20.00L41.00,-21.00L39.00,-21.00" fill="none" stroke="#000" stroke-width="1.50" vector-effect="non-scaling-stroke" stroke-linecap="round" stroke-linejoin="round"/>
<path transform="translate(123.90 545.75) scale(0.6900 0.6800) translate(-50.00 0)" d="M9.00,-21.00L6.00,-20.00L4.00,-17.00L3.00,-12.00L3.00,-9.00L4.00,-4.00L6.00,-1.00L9.00,0.00L11.00,0.00L14.00,-1.00L16.00,-4.00L17.00,-9.00L17.00,-12.00L16.00,-17.00L14.00,-20.00L11.00,-21.00L9.00,-21.00M25.00,-2.00L24.00,-1.00L25.00,0.00L26.00,-1.00L25.00,-2.00M36.00,-17.00L38.00,-18.00L41.00,-21.00L41.00,0.00" fill="none" stroke="#000" stroke-width="1.50" vector-effect="non-scaling-stroke" stroke-linecap="round" stroke-linejoin="round"/>
<path transform="translate(399.05 603.35) scale(0.6680 0.6580) translate(-57.70 0)" d="M4.00,-14.00L4.00,0.00M4.00,-8.00L5.00,-11.00L7.00,-13.00L9.00,-14.00L12.00,-14.00M17.00,1.80L17.00,14.07M17.00,3.45L18.10,2.35L19.20,1.80L20.85,1.80L21.95,2.35L23.05,3.45L23.60,5.10L23.60,6.20L23.05,7.85L21.95,8.95L20.85,9.50L19.20,9.50L18.10,8.95L17.00,7.85M30.40,-23.80L30.40,9.60M31.40,-23.80L31.40,9.60M30.40,-23.80L37.40,-23.80M30.40,9.60L37.40,9.60M44.40,-21.00L44.40,0.00M44.40,-21.00L52.40,0.00M60.40,-21.00L52.40,0.00M60.40,-21.00L60.40,0.00M68.40,-14.00L68.40,8.30M68.40,-11.00L70.40,-13.00L72.40,-14.00L75.40,-14.00L77.40,-13.00L79.40,-11.00L80.40,-8.00L80.40,-6.00L79.40,-3.00L77.40,-1.00L75.40,0.00L72.40,0.00L70.40,-1.00L68.40,-3.00M98.40,-11.00L96.40,-13.00L94.40,-14.00L91.40,-14.00L89.40,-13.00L87.40,-11.00L86.40,-8.00L86.40,-6.00L87.40,-3.00L89.40,-1.00L91.40,0.00L94.40,0.00L96.40,-1.00L98.40,-3.00M110.40,-23.80L110.40,9.60M111.40,-23.80L111.40,9.60M104.40,-23.80L111.40,-23.80M104.40,9.60L111.40,9.60" fill="none" stroke="#000" stroke-width="1.50" vector-effect="non-scaling-stroke" stroke-linecap="round" stroke-linejoin="round"/>
<path transform="translate(14.40 354.50) rotate(-90) scale(0.6650 0.6050) translate(0.00 0)" d="M3.00,-14.00L7.00,0.00M11.00,-14.00L7.00,0.00M11.00,-14.00L15.00,0.00M19.00,-14.00L15.00,0.00M26.28,0.42L26.28,15.36M26.28,2.43L27.52,1.09L28.76,0.42L30.62,0.42L31.86,1.09L33.10,2.43L33.72,4.44L33.72,5.78L33.10,7.79L31.86,9.13L30.62,9.80L28.76,9.80L27.52,9.13L26.28,7.79M45.78,-23.80L43.78,-21.71L41.78,-18.58L39.78,-14.41L38.78,-9.19L38.78,-5.01L39.78,0.21L41.78,4.38L43.78,7.51L45.78,9.60M52.78,-14.00L52.78,0.00M52.78,-8.00L53.78,-11.00L55.78,-13.00L57.78,-14.00L60.78,-14.00M66.06,0.42L66.06,15.36M66.06,2.43L67.30,1.09L68.54,0.42L70.40,0.42L71.64,1.09L72.88,2.43L73.50,4.44L73.50,5.78L72.88,7.79L71.64,9.13L70.40,9.80L68.54,9.80L67.30,9.13L66.06,7.79M78.39,-23.80L80.39,-21.71L82.39,-18.58L84.39,-14.41L85.39,-9.19L85.39,-5.01L84.39,0.21L82.39,4.38L80.39,7.51L78.39,9.60M94.51,-23.80L94.51,9.60M95.51,-23.80L95.51,9.60M94.51,-23.80L101.51,-23.80M94.51,9.60L101.51,9.60M109.11,-21.00L109.11,0.00M109.11,-21.00L117.11,0.00M125.11,-21.00L117.11,0.00M125.11,-21.00L125.11,0.00M133.71,-14.00L133.71,8.30M133.71,-11.00L135.71,-13.00L137.71,-14.00L140.71,-14.00L142.71,-13.00L144.71,-11.00L145.71,-8.00L145.71,-6.00L144.71,-3.00L142.71,-1.00L140.71,0.00L137.71,0.00L135.71,-1.00L133.71,-3.00M164.23,-11.00L162.23,-13.00L160.23,-14.00L157.23,-14.00L155.23,-13.00L153.23,-11.00L152.23,-8.00L152.23,-6.00L153.23,-3.00L155.23,-1.00L157.23,0.00L160.23,0.00L162.23,-1.00L164.23,-3.00M176.61,-23.80L176.61,9.60M177.61,-23.80L177.61,9.60M170.61,-23.80L177.61,-23.80M170.61,9.60L177.61,9.60" fill="none" stroke="#000" stroke-width="1.50" vector-effect="non-scaling-stroke" stroke-linecap="round" stroke-linejoin="round"/>
<path d="M185.64,448.92L190.00,440.20L194.36,448.92Z" fill="none" stroke="#000" stroke-width="1.9" stroke-linejoin="miter" stroke-miterlimit="4"/>
<path transform="translate(230.70 449.30) scale(0.6960 0.6550) translate(0.00 0)" d="M17.00,-18.00L15.00,-20.00L12.00,-21.00L8.00,-21.00L5.00,-20.00L3.00,-18.00L3.00,-16.00L4.00,-14.00L5.00,-13.00L7.00,-12.00L13.00,-10.00L15.00,-9.00L16.00,-8.00L17.00,-6.00L17.00,-3.00L15.00,-1.00L12.00,0.00L8.00,0.00L5.00,-1.00L3.00,-3.00M24.00,-21.00L24.00,0.00M24.00,-21.00L31.00,-21.00L34.00,-20.00L36.00,-18.00L37.00,-16.00L38.00,-13.00L38.00,-8.00L37.00,-5.00L36.00,-3.00L34.00,-1.00L31.00,0.00L24.00,0.00M58.00,-18.00L56.00,-20.00L53.00,-21.00L49.00,-21.00L46.00,-20.00L44.00,-18.00L44.00,-16.00L45.00,-14.00L46.00,-13.00L48.00,-12.00L54.00,-10.00L56.00,-9.00L57.00,-8.00L58.00,-6.00L58.00,-3.00L56.00,-1.00L53.00,0.00L49.00,0.00L46.00,-1.00L44.00,-3.00M78.00,-18.00L76.00,-20.00L73.00,-21.00L69.00,-21.00L66.00,-20.00L64.00,-18.00L64.00,-16.00L65.00,-14.00L66.00,-13.00L68.00,-12.00L74.00,-10.00L76.00,-9.00L77.00,-8.00L78.00,-6.00L78.00,-3.00L76.00,-1.00L73.00,0.00L69.00,0.00L66.00,-1.00L64.00,-3.00M101.00,-21.00L101.00,0.00M101.00,-21.00L108.00,-21.00L111.00,-20.00L113.00,-18.00L114.00,-16.00L115.00,-13.00L115.00,-8.00L114.00,-5.00L113.00,-3.00L111.00,-1.00L108.00,0.00L101.00,0.00M122.00,-21.00L122.00,0.00M122.00,-21.00L131.00,-21.00L134.00,-20.00L135.00,-19.00L136.00,-17.00L136.00,-15.00L135.00,-13.00L134.00,-12.00L131.00,-11.00L122.00,-11.00M129.00,-11.00L136.00,0.00M156.00,-21.00L146.00,0.00M142.00,-21.00L156.00,-21.00" fill="none" stroke="#000" stroke-width="2.20" vector-effect="non-scaling-stroke" stroke-linecap="round" stroke-linejoin="round"/>
<path d="M169.9,478.8H218.3" stroke="#f00" stroke-width="2" stroke-dasharray="12 6.2" fill="none"/>
<path transform="translate(232.00 485.10) scale(0.6980 0.6550) translate(0.00 0)" d="M4.00,-21.00L4.00,0.00M4.00,-21.00L12.00,0.00M20.00,-21.00L12.00,0.00M20.00,-21.00L20.00,0.00M41.00,-18.00L39.00,-20.00L36.00,-21.00L32.00,-21.00L29.00,-20.00L27.00,-18.00L27.00,-16.00L28.00,-14.00L29.00,-13.00L31.00,-12.00L37.00,-10.00L39.00,-9.00L40.00,-8.00L41.00,-6.00L41.00,-3.00L39.00,-1.00L36.00,0.00L32.00,0.00L29.00,-1.00L27.00,-3.00" fill="none" stroke="#f00" stroke-width="2.00" vector-effect="non-scaling-stroke" stroke-linecap="round" stroke-linejoin="round"/>
<path d="M167.9,505.4H217.7" stroke="#00f" stroke-width="2" fill="none"/>
<path transform="translate(230.60 514.80) scale(0.6980 0.6550) translate(0.00 0)" d="M4.00,-21.00L4.00,0.00M4.00,-21.00L12.00,0.00M20.00,-21.00L12.00,0.00M20.00,-21.00L20.00,0.00M41.00,-18.00L39.00,-20.00L36.00,-21.00L32.00,-21.00L29.00,-20.00L27.00,-18.00L27.00,-16.00L28.00,-14.00L29.00,-13.00L31.00,-12.00L37.00,-10.00L39.00,-9.00L40.00,-8.00L41.00,-6.00L41.00,-3.00L39.00,-1.00L36.00,0.00L32.00,0.00L29.00,-1.00L27.00,-3.00M64.00,-21.00L64.00,0.00M72.00,-21.00L72.00,0.00" fill="none" stroke="#00f" stroke-width="2.00" vector-effect="non-scaling-stroke" stroke-linecap="round" stroke-linejoin="round"/>
</svg>
</body></html>
